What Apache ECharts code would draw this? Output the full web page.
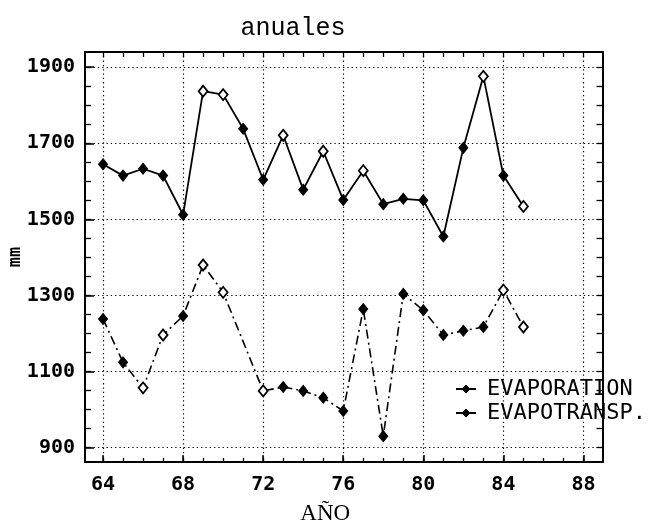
<!DOCTYPE html>
<html><head><meta charset="utf-8">
<script src="https://cdn.jsdelivr.net/npm/echarts@6/dist/echarts.min.js"></script>
<style>html,body{margin:0;padding:0;background:#fff}#c{width:666px;height:525px}</style>
</head><body><div id="c"></div>
<script>
// ---- data ----
const years = [64,65,66,67,68,69,70,71,72,73,74,75,76,77,78,79,80,81,82,83,84,85];
const evaporation = [1645,1615,1633,1615,1512,1837,1828,1738,1604,1721,1578,1679,1551,1628,1540,1554,1550,1455,1688,1876,1615,1534];
const evapotransp = [1238,1124,1057,1196,1246,1380,1308,null,1049,1059,1049,1031,996,1264,930,1304,1261,1196,1207,1217,1314,1217];
const xTickLabels = [64,68,72,76,80,84,88];
const yTickLabels = [900,1100,1300,1500,1700,1900];
const seriesNames = ['EVAPORATION','EVAPOTRANSP.'];

// ---- style helpers (not data) ----
const evapHollow = [69,70,73,75,77,83,85];
const etHollow = [66,67,69,70,72,84,85];
const xMinor = []; for (let v = 64; v <= 88; v++) xMinor.push(v);
const yMinor = []; for (let v = 900; v <= 1900; v += 50) yMinor.push(v);

function points(vals, hollow) {
  const out = [];
  years.forEach((yr, i) => {
    if (vals[i] == null) return;
    const p = { value: [yr, vals[i]] };
    if (hollow.indexOf(yr) >= 0) p.itemStyle = { color: '#fff', borderColor: '#000', borderWidth: 1.8 };
    out.push(p);
  });
  return out;
}

const plain = v => String(v);
const labelFont = { fontFamily: 'DejaVu Sans Mono', fontWeight: 'bold', fontSize: 20, color: '#000' };
const dotted = { show: true, lineStyle: { type: [1.3, 3], color: '#000', width: 1.2 } };
const X_MIN = 63.1, X_MAX = 88.95, Y_MIN = 862, Y_MAX = 1940;

const chart = echarts.init(document.getElementById('c'));
chart.setOption({
  animation: false,
  backgroundColor: '#fff',
  title: {
    text: 'anuales', left: 288, top: 11, textAlign: 'center',
    textStyle: { fontFamily: 'Liberation Mono', fontWeight: 'normal', fontSize: 25, color: '#000' }
  },
  grid: { left: 85, top: 52, right: 63.5, bottom: 63, containLabel: false, outerBoundsMode: 'none' },
  legend: {
    orient: 'vertical', left: 455, top: 378, padding: 0, itemWidth: 20, itemHeight: 10, itemGap: 2,
    data: seriesNames,
    lineStyle: { type: 'solid', color: '#000', width: 2 },
    itemStyle: { color: '#000', borderColor: '#000', borderWidth: 1 },
    textStyle: { fontFamily: 'DejaVu Sans Mono', fontSize: 22, color: '#000', lineHeight: 21, padding: [0, 0, 0, 6] }
  },
  xAxis: [
    {
      type: 'value', position: 'bottom', min: X_MIN, max: X_MAX,
      axisLine: { show: true, onZero: false, lineStyle: { color: '#000', width: 2 } },
      axisTick: { show: true, inside: true, length: 7, customValues: xTickLabels, lineStyle: { color: '#000', width: 1.5 } },
      axisLabel: Object.assign({ show: true, margin: 13, customValues: xTickLabels, formatter: plain }, labelFont),
      splitLine: dotted,
      name: 'AÑO', nameLocation: 'middle', nameGap: 40, nameMoveOverlap: false,
      nameTextStyle: { fontFamily: 'Liberation Serif', fontSize: 23, color: '#000', padding: [0, 37, 0, 0] }
    },
    {
      type: 'value', position: 'bottom', min: X_MIN, max: X_MAX,
      axisLine: { show: false, onZero: false },
      axisTick: { show: true, inside: true, length: 4, customValues: xMinor, lineStyle: { color: '#000', width: 1.3 } },
      axisLabel: { show: false }, splitLine: { show: false }
    },
    {
      type: 'value', position: 'top', min: X_MIN, max: X_MAX,
      axisLine: { show: true, onZero: false, lineStyle: { color: '#000', width: 2 } },
      axisTick: { show: true, inside: true, length: 5, customValues: xMinor, lineStyle: { color: '#000', width: 1.3 } },
      axisLabel: { show: false }, splitLine: { show: false }
    }
  ],
  yAxis: [
    {
      type: 'value', position: 'left', min: Y_MIN, max: Y_MAX,
      axisLine: { show: true, onZero: false, lineStyle: { color: '#000', width: 2 } },
      axisTick: { show: true, inside: true, length: 9, customValues: yTickLabels, lineStyle: { color: '#000', width: 1.5 } },
      axisLabel: Object.assign({ show: true, margin: 10, customValues: yTickLabels, formatter: plain }, labelFont),
      splitLine: dotted,
      name: 'mm', nameLocation: 'middle', nameRotate: 90, nameGap: 61, nameMoveOverlap: false,
      nameTextStyle: { fontFamily: 'DejaVu Sans Mono', fontWeight: 'bold', fontSize: 17, color: '#000' }
    },
    {
      type: 'value', position: 'left', min: Y_MIN, max: Y_MAX,
      axisLine: { show: false, onZero: false },
      axisTick: { show: true, inside: true, length: 6, customValues: yMinor, lineStyle: { color: '#000', width: 1.3 } },
      axisLabel: { show: false }, splitLine: { show: false }
    },
    {
      type: 'value', position: 'right', min: Y_MIN, max: Y_MAX,
      axisLine: { show: true, onZero: false, lineStyle: { color: '#000', width: 2 } },
      axisTick: { show: true, inside: true, length: 6, customValues: yMinor, lineStyle: { color: '#000', width: 1.3 } },
      axisLabel: { show: false }, splitLine: { show: false }
    }
  ],
  series: [
    {
      type: 'line', name: seriesNames[0], xAxisIndex: 0, yAxisIndex: 0,
      data: points(evaporation, evapHollow),
      symbol: 'diamond', symbolSize: [9, 11], showAllSymbol: true,
      lineStyle: { color: '#000', width: 1.8 },
      itemStyle: { color: '#000', borderColor: '#000', borderWidth: 1 },
      z: 3
    },
    {
      type: 'line', name: seriesNames[1], xAxisIndex: 0, yAxisIndex: 0,
      data: points(evapotransp, etHollow),
      symbol: 'diamond', symbolSize: [9, 11], showAllSymbol: true,
      lineStyle: { color: '#000', width: 1.6, type: [9, 4, 2, 4] },
      itemStyle: { color: '#000', borderColor: '#000', borderWidth: 1 },
      z: 3
    }
  ]
});
</script>
</body></html>
